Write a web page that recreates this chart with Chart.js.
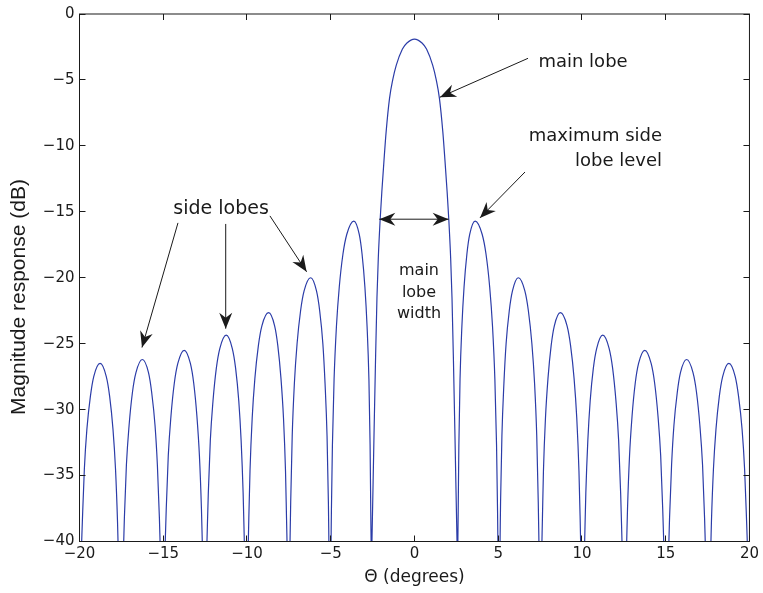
<!DOCTYPE html>
<html>
<head>
<meta charset="utf-8">
<script src="https://cdn.jsdelivr.net/npm/chart.js@4.4.1/dist/chart.umd.min.js"></script>
<style>
  html, body { margin: 0; padding: 0; background: #fff; }
  canvas { display: block; }
</style>
</head>
<body>
<canvas id="c" width="763" height="593"></canvas>
<script>
// beam pattern (null = gap at a null below -40 dB)
var thetaDeg = [
  -19.87, -19.83, -19.71, -19.56, -19.35, -19.15, -18.77, -18.40, -18.20, -18.00, -17.85, -17.73, -17.70, -17.53,
  -17.36, -17.32, -17.20, -17.04, -16.84, -16.63, -16.25, -15.88, -15.69, -15.49, -15.35, -15.23, -15.19, -15.03,
  -14.88, -14.82, -14.70, -14.54, -14.34, -14.13, -13.75, -13.38, -13.18, -12.99, -12.84, -12.72, -12.67, -12.52,
  -12.39, -12.31, -12.19, -12.03, -11.83, -11.62, -11.24, -10.88, -10.68, -10.49, -10.35, -10.23, -10.16, -10.03,
  -9.92, -9.89, -9.82, -9.69, -9.53, -9.32, -9.11, -8.71, -8.35, -8.16, -7.97, -7.82, -7.70, -7.64, -7.61, -7.51,
  -7.43, -7.39, -7.30, -7.17, -7.01, -6.80, -6.59, -6.20, -5.85, -5.66, -5.47, -5.34, -5.22, -5.14, -5.11, -5.03,
  -4.98, -4.96, -4.90, -4.80, -4.66, -4.49, -4.27, -4.04, -3.62, -3.30, -3.13, -2.96, -2.83, -2.72, -2.65, -2.61, -2.59, -2.565,
  -2.54, -2.47, -2.41, -2.33, -2.24, -2.16, -2.05, -1.95, -1.82, -1.69, -1.49, -1.30, -1.09, -0.72, -0.45, 0,
  0.45, 0.72, 1.09, 1.30, 1.49, 1.69, 1.82, 1.95, 2.05, 2.16, 2.24, 2.33, 2.41, 2.47, 2.54, 2.565,
  2.59, 2.61, 2.65, 2.72, 2.83, 2.96, 3.13, 3.30, 3.62, 4.04, 4.27, 4.49, 4.66, 4.80, 4.90, 4.96, 4.98, 5.03,
  5.11, 5.14, 5.22, 5.34, 5.47, 5.66, 5.85, 6.20, 6.59, 6.80, 7.01, 7.17, 7.30, 7.39, 7.43, 7.51,
  7.61, 7.64, 7.70, 7.82, 7.97, 8.16, 8.35, 8.71, 9.11, 9.32, 9.53, 9.69, 9.82, 9.89, 9.92, 10.03,
  10.16, 10.23, 10.35, 10.49, 10.68, 10.88, 11.24, 11.62, 11.83, 12.03, 12.19, 12.31, 12.39, 12.52,
  12.67, 12.72, 12.84, 12.99, 13.18, 13.38, 13.75, 14.13, 14.34, 14.54, 14.70, 14.82, 14.88, 15.03,
  15.19, 15.23, 15.35, 15.49, 15.69, 15.88, 16.25, 16.63, 16.84, 17.04, 17.20, 17.32, 17.36, 17.53,
  17.70, 17.73, 17.85, 18.00, 18.20, 18.40, 18.77, 19.15, 19.35, 19.56, 19.71, 19.83, 19.87
];
var responseDb = [
  -40, -38.5, -34.5, -31.5, -29, -27.5, -26.5, -27.5, -29, -31.5, -34.5, -38.5, -40, null,
  -40, -38.2, -34.2, -31.2, -28.7, -27.2, -26.2, -27.2, -28.7, -31.2, -34.2, -38.2, -40, null,
  -40, -37.5, -33.5, -30.5, -28, -26.5, -25.5, -26.5, -28, -30.5, -33.5, -37.5, -40, null,
  -40, -36.35, -32.35, -29.35, -26.85, -25.35, -24.35, -25.35, -26.85, -29.35, -32.35, -36.35, -40, null,
  -40, -38.2, -34.65, -30.65, -27.65, -25.15, -23.65, -22.65, -23.65, -25.15, -27.65, -30.65, -34.65, -38.2, -40, null,
  -40, -37, -32, -28, -25, -22.5, -21, -20, -21, -22.5, -25, -28, -32, -37, -40, null,
  -40, -37.7, -32.7, -27.7, -23.7, -20.7, -18.2, -16.7, -15.7, -16.7, -18.2, -20.7, -23.7, -27.7, -32.7, -37.7, -40, null,
  -40, -35.5, -31.5, -26.5, -21.5, -18.5, -15.6, -13.5, -11.1, -8.9, -6.4, -5.0, -3.9, -2.66, -2.2, -1.9,
  -2.2, -2.66, -3.9, -5.0, -6.4, -8.9, -11.1, -13.5, -15.6, -18.5, -21.5, -26.5, -31.5, -35.5, -40, null,
  -40, -37.7, -32.7, -27.7, -23.7, -20.7, -18.2, -16.7, -15.7, -16.7, -18.2, -20.7, -23.7, -27.7, -32.7, -37.7, -40, null,
  -40, -37, -32, -28, -25, -22.5, -21, -20, -21, -22.5, -25, -28, -32, -37, -40, null,
  -40, -38.2, -34.65, -30.65, -27.65, -25.15, -23.65, -22.65, -23.65, -25.15, -27.65, -30.65, -34.65, -38.2, -40, null,
  -40, -36.35, -32.35, -29.35, -26.85, -25.35, -24.35, -25.35, -26.85, -29.35, -32.35, -36.35, -40, null,
  -40, -37.5, -33.5, -30.5, -28, -26.5, -25.5, -26.5, -28, -30.5, -33.5, -37.5, -40, null,
  -40, -38.2, -34.2, -31.2, -28.7, -27.2, -26.2, -27.2, -28.7, -31.2, -34.2, -38.2, -40, null,
  -40, -38.5, -34.5, -31.5, -29, -27.5, -26.5, -27.5, -29, -31.5, -34.5, -38.5, -40
];
var xTickValues = [-20, -15, -10, -5, 0, 5, 10, 15, 20];
var yTickValues = [-40, -35, -30, -25, -20, -15, -10, -5, 0];

var FONT = "'DejaVu Sans', 'Liberation Sans', sans-serif";
var INK = '#1a1a1a';

// text labels and arrows, placed in axis units
var notes = [
  { text: 'main lobe', x: 7.40, y: -4.05, align: 'left', size: 18 },
  { text: 'maximum side', x: 14.78, y: -9.64, align: 'right', size: 18 },
  { text: 'lobe level', x: 14.78, y: -11.53, align: 'right', size: 18 },
  { text: 'side lobes', x: -11.55, y: -15.18, align: 'center', size: 19 },
  { text: 'main', x: 0.27, y: -19.8, align: 'center', size: 16 },
  { text: 'lobe', x: 0.27, y: -21.45, align: 'center', size: 16 },
  { text: 'width', x: 0.27, y: -23.05, align: 'center', size: 16 }
];
var arrows = [
  { from: [6.78, -3.36], to: [1.52, -6.31] },
  { from: [6.60, -11.98], to: [3.91, -15.46] },
  { from: [-14.12, -15.84], to: [-16.27, -25.29] },
  { from: [-11.27, -15.92], to: [-11.27, -23.86] },
  { from: [-8.63, -15.31], to: [-6.44, -19.55] },
  { from: [-2.10, -15.56], to: [2.04, -15.56], both: true }
];

function fmt(v) { return v < 0 ? '\u2212' + Math.abs(v) : '' + v; }

function head(ctx, tx, ty, fx, fy) {
  var a = Math.atan2(ty - fy, tx - fx);
  ctx.save();
  ctx.translate(tx, ty);
  ctx.rotate(a);
  ctx.beginPath();
  ctx.moveTo(0, 0);
  ctx.lineTo(-16, -6.5);
  ctx.lineTo(-11, 0);
  ctx.lineTo(-16, 6.5);
  ctx.closePath();
  ctx.fill();
  ctx.restore();
}

var frame = {
  id: 'frame',
  afterDatasetsDraw: function(chart) {
    var ctx = chart.ctx, a = chart.chartArea, x = chart.scales.x, y = chart.scales.y;
    ctx.save();
    ctx.strokeStyle = INK;
    ctx.lineWidth = 1;
    ctx.strokeRect(a.left, a.top, a.right - a.left, a.bottom - a.top);
    ctx.beginPath();
    xTickValues.forEach(function(v) {
      var p = Math.round(x.getPixelForValue(v) - 0.5) + 0.5;
      ctx.moveTo(p, a.bottom); ctx.lineTo(p, a.bottom - 6);
      ctx.moveTo(p, a.top); ctx.lineTo(p, a.top + 6);
    });
    yTickValues.forEach(function(v) {
      var p = Math.round(y.getPixelForValue(v) - 0.5) + 0.5;
      ctx.moveTo(a.left, p); ctx.lineTo(a.left + 6, p);
      ctx.moveTo(a.right, p); ctx.lineTo(a.right - 6, p);
    });
    ctx.stroke();

    ctx.fillStyle = INK;
    arrows.forEach(function(ar) {
      var fx = x.getPixelForValue(ar.from[0]), fy = y.getPixelForValue(ar.from[1]);
      var tx = x.getPixelForValue(ar.to[0]), ty = y.getPixelForValue(ar.to[1]);
      ctx.beginPath();
      ctx.moveTo(fx, fy);
      ctx.lineTo(tx, ty);
      ctx.stroke();
      head(ctx, tx, ty, fx, fy);
      if (ar.both) head(ctx, fx, fy, tx, ty);
    });

    ctx.textBaseline = 'alphabetic';
    notes.forEach(function(n) {
      ctx.font = n.size + 'px ' + FONT;
      ctx.textAlign = n.align;
      ctx.fillText(n.text, x.getPixelForValue(n.x), y.getPixelForValue(n.y));
    });

    // y axis title sits a little below the axis centre in the original
    ctx.save();
    ctx.translate(25, 297);
    ctx.rotate(-Math.PI / 2);
    ctx.font = "21px 'Liberation Sans', Arial, sans-serif";
    ctx.textAlign = 'center';
    ctx.fillText('Magnitude response (dB)', 0, 0);
    ctx.restore();
    ctx.restore();
  }
};

new Chart(document.getElementById('c'), {
  type: 'line',
  data: {
    datasets: [{
      data: thetaDeg.map(function(t, i) { return { x: t, y: responseDb[i] }; }),
      borderColor: '#2b3ca8',
      borderWidth: 1.2,
      pointRadius: 0,
      fill: false,
      spanGaps: false,
      cubicInterpolationMode: 'monotone'
    }]
  },
  options: {
    responsive: false,
    animation: false,
    devicePixelRatio: 1,
    layout: { padding: { top: 12.5, right: 13.5, left: 0, bottom: 0 } },
    plugins: { legend: { display: false }, tooltip: { enabled: false } },
    scales: {
      x: {
        type: 'linear', min: -20, max: 20,
        afterBuildTicks: function(s) { s.ticks = xTickValues.map(function(v) { return { value: v }; }); },
        afterFit: function(s) { s.height = 51.5; },
        grid: { display: false, drawTicks: false },
        border: { display: false },
        ticks: { color: INK, font: { family: FONT, size: 15 }, padding: 4, maxRotation: 0, callback: fmt },
        title: { display: true, text: '\u0398 (degrees)', color: INK, font: { family: FONT, size: 17 }, padding: { top: 0, bottom: 5 } }
      },
      y: {
        type: 'linear', min: -40, max: 0,
        afterBuildTicks: function(s) { s.ticks = yTickValues.map(function(v) { return { value: v }; }); },
        afterFit: function(s) { s.width = 79.5; },
        grid: { display: false, drawTicks: false },
        border: { display: false },
        ticks: { color: INK, font: { family: FONT, size: 15 }, padding: 5, callback: fmt },
        title: { display: false }
      }
    }
  },
  plugins: [frame]
});
</script>
</body>
</html>
